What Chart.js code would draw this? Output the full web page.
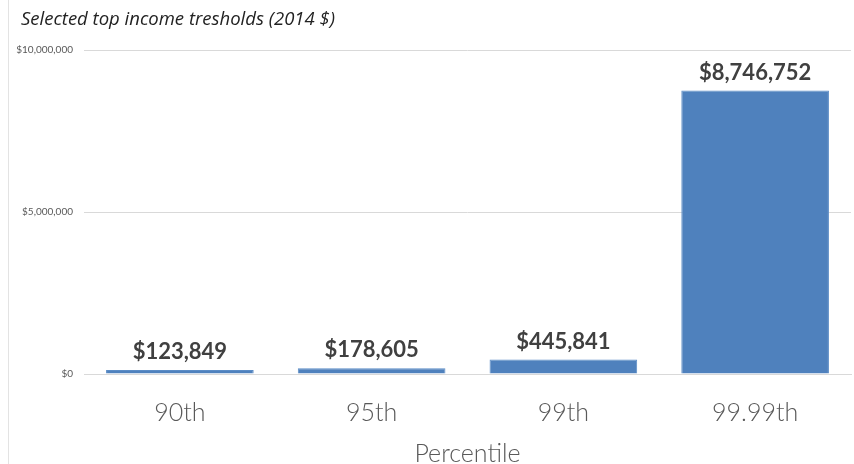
<!DOCTYPE html>
<html>
<head>
<meta charset="utf-8">
<script src="https://cdn.jsdelivr.net/npm/chart.js@4/dist/chart.umd.min.js"></script>
<style>
  html, body { margin: 0; padding: 0; background: #fff; }
  #wrap { position: relative; width: 854px; height: 464px; }
  #wrap:before { content: ""; position: absolute; left: 8px; top: 0; bottom: 0; border-left: 1px solid #e3e3e3; }
</style>
</head>
<body>
<div id="wrap"><canvas id="incomeChart" width="854" height="464"></canvas></div>
<script>
// percentiler och inkomstgränser (2014 $)
const percentiler = ["90th", "95th", "99th", "99.99th"];
const inkomstGrans = [123849, 178605, 445841, 8746752];
const yTicks = [0, 5000000, 10000000];
const rubrik = "Selected top income tresholds (2014 $)";

const kronor = v => "$" + v.toLocaleString("en-US");

// ritar värdet ovanför varje stapel + rubriken uppe till vänster
const etikettPlugin = {
  id: "etiketter",
  afterDatasetsDraw(chart) {
    const ctx = chart.ctx;
    const meta = chart.getDatasetMeta(0);
    ctx.save();
    ctx.font = "bold 22px Lato, 'Open Sans', sans-serif";
    ctx.fillStyle = "#404040";
    ctx.textAlign = "center";
    ctx.textBaseline = "bottom";
    meta.data.forEach((bar, i) => {
      ctx.fillText(kronor(inkomstGrans[i]), bar.x, bar.y - 7);
    });
    ctx.font = "italic 18.5px 'Open Sans', sans-serif";
    ctx.fillStyle = "#222";
    ctx.textAlign = "left";
    ctx.textBaseline = "middle";
    ctx.fillText(rubrik, 21, 20);
    ctx.restore();
  }
};

new Chart(document.getElementById("incomeChart"), {
  type: "bar",
  data: {
    labels: percentiler,
    datasets: [{
      data: inkomstGrans,
      backgroundColor: "#4f81bd",
      borderColor: "#5b8cc6",
      borderWidth: 1,
      categoryPercentage: 1,
      barPercentage: 0.77
    }]
  },
  options: {
    responsive: false,
    animation: false,
    layout: { padding: { left: 8, right: 3, top: 50, bottom: -5 } },
    plugins: {
      legend: { display: false },
      tooltip: { enabled: false },
      title: { display: false }
    },
    scales: {
      y: {
        min: 0,
        max: 10000000,
        afterBuildTicks(axis) { axis.ticks = yTicks.map(v => ({ value: v })); },
        afterFit(axis) { axis.width = 76; },
        border: { display: false },
        grid: { color: "#d9d9d9", drawTicks: false },
        ticks: {
          padding: 11,
          color: "#595959",
          font: { family: "Lato, 'Open Sans', sans-serif", size: 10 },
          callback: v => kronor(v)
        }
      },
      x: {
        border: { color: "#d9d9d9" },
        grid: { display: false },
        ticks: {
          padding: 16,
          color: "#595959",
          font: { family: "Lato, 'Open Sans', sans-serif", size: 25, weight: 300 }
        },
        title: {
          display: true,
          text: "Percentile",
          color: "#595959",
          padding: { top: -5, bottom: 0 },
          font: { family: "Lato, 'Open Sans', sans-serif", size: 25, weight: 300 }
        }
      }
    }
  },
  plugins: [etikettPlugin]
});
</script>
</body>
</html>
